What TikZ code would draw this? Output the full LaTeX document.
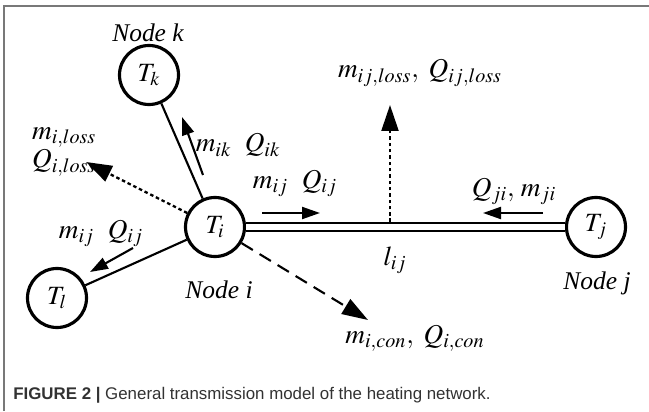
\documentclass[tikz,border=0pt]{standalone}
\usepackage{mathptmx}
\usepackage{fontspec}
\setmainfont{Liberation Serif}
\newfontfamily\capfont{Liberation Sans}
\usetikzlibrary{arrows.meta}

\definecolor{framegray}{RGB}{120,120,120}
\definecolor{capgray}{RGB}{50,50,50}

\tikzset{
  tnode/.style={circle,draw,line width=1.8pt,minimum size=1.18cm,
    inner sep=0pt,font=\fontsize{15}{17}\selectfont},
  namelabel/.style={font=\fontsize{14.5}{16}\selectfont\itshape},
  flowlabel/.style={font=\fontsize{15.5}{14.2}\selectfont,inner sep=1pt},
  flow/.style={line width=1.2pt,-{Triangle[length=0.36cm,width=0.24cm]}},
  lossflow/.style={line width=1.3pt,dash pattern=on 2pt off 1.6pt,
    -{Triangle[length=0.52cm,width=0.34cm]}},
  conflow/.style={line width=1.2pt,dash pattern=on 7.5pt off 4.5pt,
    -{Triangle[length=0.52cm,width=0.34cm]}},
  pipe/.style={double,double distance=3pt,line width=1.5pt},
}

\begin{document}
\begin{tikzpicture}[line cap=butt,line join=miter]
    \useasboundingbox (0,0) rectangle (12.98,8.22);
    % Frame on the left and at the top.
    \draw[framegray,line width=0.8pt] (0.08,0) -- (0.08,8.10) -- (12.98,8.10);

    % The four nodes of the network.
    \node[tnode] (ti) at (4.30,3.68) {$T_i$};
    \node[tnode] (tk) at (2.98,6.72) {$T_k$};
    \node[tnode] (tl) at (1.14,2.26) {$T_l$};
    \node[tnode] (tj) at (11.92,3.68) {$T_j$};

    \node[namelabel] (namek) at (2.96,7.56) {Node k};
    \node[namelabel] (namei) at (4.38,2.42) {Node i};
    \node[namelabel] (namej) at (11.94,2.56) {Node j};

    % Connections between the nodes.
    \draw[line width=1.2pt] (ti) -- (tk);
    \draw[line width=1.2pt] (ti) -- (tl);
    \draw[pipe] (ti) -- (tj);

    % Losses and consumption.
    \coordinate (lossend) at (1.72,4.98);
    \coordinate (pipeloss) at (7.80,3.78);
    \coordinate (pipelossend) at (7.80,6.12);
    \coordinate (conend) at (7.36,1.82);
    \draw[lossflow] (ti) -- (lossend);
    \draw[lossflow] (pipeloss) -- (pipelossend);
    \draw[conflow] (ti) -- (conend);

    \node[flowlabel,align=left,anchor=west] (lossi) at (0.60,5.18) {$m_{i,loss}$\\$Q_{i,loss}$};
    \node[flowlabel] (lossij) at (8.40,6.76) {$m_{ij,loss},\ Q_{ij,loss}$};
    \node[flowlabel] (coni) at (8.30,1.46) {$m_{i,con},\ Q_{i,con}$};
    \node[flowlabel] (lij) at (7.90,3.02) {$l_{ij}$};

    % Flow directions along the branches.
    \coordinate (ikstart) at (4.06,4.72);
    \coordinate (ikend) at (3.64,5.88);
    \coordinate (ijstart) at (5.24,3.96);
    \coordinate (ijend) at (6.40,3.96);
    \coordinate (jistart) at (10.86,3.96);
    \coordinate (jiend) at (9.66,3.96);
    \coordinate (ilstart) at (2.66,3.26);
    \coordinate (ilend) at (1.80,2.78);
    \draw[flow] (ikstart) -- (ikend);
    \draw[flow] (ijstart) -- (ijend);
    \draw[flow] (jistart) -- (jiend);
    \draw[flow] (ilstart) -- (ilend);

    \node[flowlabel] (flowik) at (4.76,5.32) {$m_{ik}\ \ Q_{ik}$};
    \node[flowlabel] (flowij) at (5.90,4.56) {$m_{ij}\ \ Q_{ij}$};
    \node[flowlabel] (flowji) at (10.28,4.40) {$Q_{ji},\, m_{ji}$};
    \node[flowlabel] (flowil) at (2.02,3.56) {$m_{ij}\ \ Q_{ij}$};

    % Caption.
    \node[anchor=west,inner sep=0pt,text=capgray,
      font=\capfont\fontsize{9.6}{11}\selectfont] (caption) at (0.26,0.32)
      {\textbf{FIGURE 2 |} General transmission model of the heating network.};
  \end{tikzpicture}
\end{document}
